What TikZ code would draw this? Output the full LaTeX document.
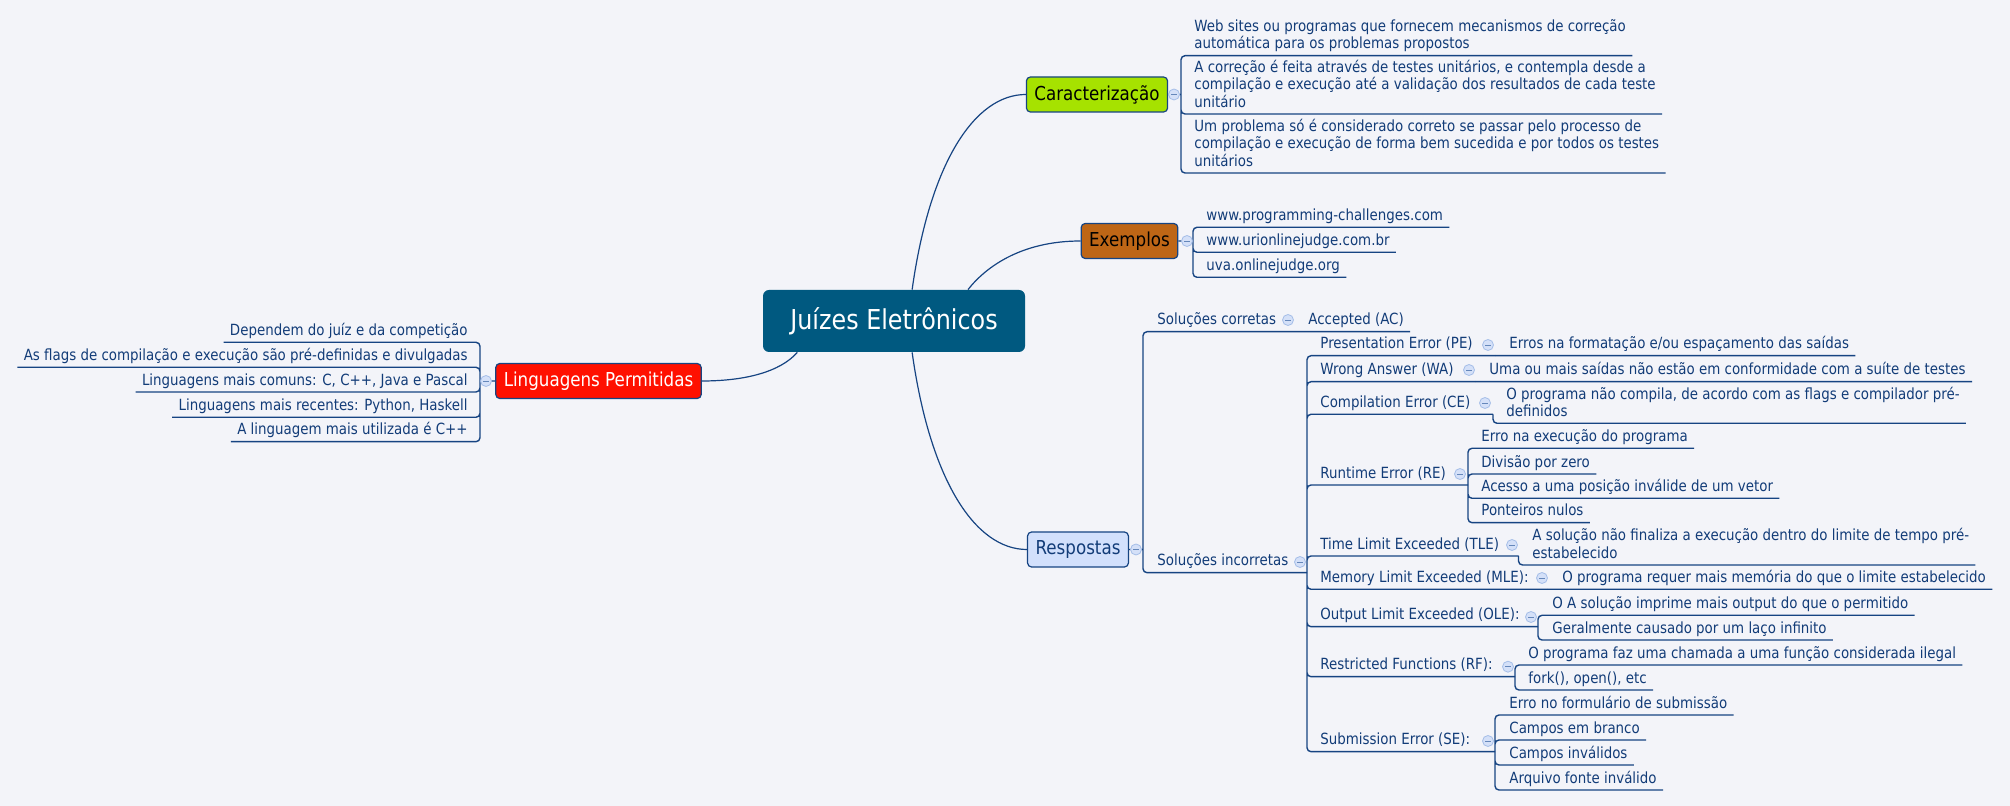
\documentclass[tikz,border=0pt]{standalone}
\usepackage{fontspec}
\setmainfont{DejaVu Sans}[FakeStretch=0.87]

\definecolor{bgcol}{RGB}{243,244,249}
\definecolor{linecol}{RGB}{22,68,130}
\definecolor{textcol}{RGB}{18,60,120}
\definecolor{rootcol}{RGB}{0,89,128}
\definecolor{caraccol}{RGB}{166,226,0}
\definecolor{examplecol}{RGB}{190,102,22}
\definecolor{answercol}{RGB}{210,224,252}
\definecolor{langcol}{RGB}{255,16,0}
\definecolor{knobcol}{RGB}{212,224,248}
\definecolor{knobline}{RGB}{165,190,232}

\begin{document}
\begin{tikzpicture}[x=0.5pt,y=-0.5pt,
% Topic style
		root/.style={rectangle
							    , rounded corners=3pt
							    , fill=rootcol
							    , text=white
							    , minimum width=131pt
							    , minimum height=31pt
							    , font=\fontsize{13.7}{16}\selectfont},
		topic/.style={rectangle
							    , rounded corners=2pt
							    , draw=linecol, line width=0.6pt
							    , inner xsep=4pt
							    , minimum height=17.5pt
							    , font=\fontsize{9.6}{11}\selectfont},
% Leaf style
		leaf/.style={anchor=south west
							    , inner xsep=3pt
							    , inner ysep=0.7pt
							    , text=textcol
							    , align=left
							    , font=\fontsize{7.7}{8.6}\selectfont
							    , execute at end node=\strut},
		leftleaf/.style={leaf
							    , anchor=south east
							    , align=right},
		knob/.style={circle
							    , fill=knobcol
							    , draw=knobline, line width=0.4pt
							    , inner sep=0pt
							    , minimum size=5.5pt
							    , path picture={\draw[linecol!45!knobline, line width=0.4pt]
							        ([xshift=-1.3pt]path picture bounding box.center)
							        -- ([xshift=1.3pt]path picture bounding box.center);}},
% Connector style
		branch/.style={draw=linecol, line width=0.7pt, rounded corners=2pt},
		curve/.style={draw=linecol, line width=0.6pt}
	]
	\fill[bgcol] (0,0) rectangle (2010,806);

%% Main topics
	\node [root] (jz) at (894,321) {Juízes Eletrônicos};
	\node [topic, fill=caraccol] (carac) at (1097,94.5) {Caracterização};
	\node [topic, fill=examplecol] (exemp) at (1129.5,241) {Exemplos};
	\node [topic, fill=answercol, text=textcol] (resp) at (1078,549.5) {Respostas};
	\node [topic, fill=langcol, text=white] (lang) at (598.5,381) {Linguagens Permitidas};

	\draw[curve] (jz.60) .. controls (930,162) and (975,94.5) .. (carac.west);
	\draw[curve] (jz.23) .. controls (985,268) and (1020,241) .. (exemp.west);
	\draw[curve] (jz.300) .. controls (930,480) and (975,549.5) .. (resp.west);
	\draw[curve] (jz.198) .. controls (780,372) and (745,381) .. (lang.east);

%% Caracterizacao
	\coordinate (carac-h) at (1181,94.5);
	\node [leaf] (ca1) at (1188,55.7) {Web sites ou programas que fornecem mecanismos de correção\\automática para os problemas propostos};
	\node [leaf] (ca2) at (1188,114) {A correção é feita através de testes unitários, e contempla desde a\\compilação e execução até a validação dos resultados de cada teste\\unitário};
	\node [leaf] (ca3) at (1188,173) {Um problema só é considerado correto se passar pelo processo de\\compilação e execução de forma bem sucedida e por todos os testes\\unitários};
	\draw[branch] (carac.east) -- (carac-h)
		(carac-h) |- (ca1.south east) (carac-h) |- (ca2.south east) (carac-h) |- (ca3.south east);

%% Exemplos
	\coordinate (exemp-h) at (1193,241);
	\node [leaf] (ex1) at (1200,227.3) {www.programming-challenges.com};
	\node [leaf] (ex2) at (1200,252.3) {www.urionlinejudge.com.br};
	\node [leaf] (ex3) at (1200,277.3) {uva.onlinejudge.org};
	\draw[branch] (exemp.east) -- (exemp-h)
		(exemp-h) |- (ex1.south east) (exemp-h) |- (ex2.south east) (exemp-h) |- (ex3.south east);

%% Linguagens Permitidas
	\coordinate (lang-h) at (480,381);
	\node [leftleaf] (lp1) at (474,342.3) {Dependem do juíz e da competição};
	\node [leftleaf] (lp2) at (474,367.3) {As flags de compilação e execução são pré-definidas e divulgadas};
	\node [leftleaf] (lp3) at (474,392) {Linguagens mais comuns: C, C++, Java e Pascal};
	\node [leftleaf] (lp4) at (474,417.3) {Linguagens mais recentes: Python, Haskell};
	\node [leftleaf] (lp5) at (474,441.7) {A linguagem mais utilizada é C++};
	\draw[branch] (lang.west) -- (lang-h)
		(lang-h) |- (lp1.south west) (lang-h) |- (lp2.south west) (lang-h) |- (lp3.south west)
		(lang-h) |- (lp4.south west) (lang-h) |- (lp5.south west);

%% Respostas
	\coordinate (resp-h) at (1143,549.5);
	\coordinate (sc-h) at (1295,331.7);
	\coordinate (si-h) at (1307,572.7);
	\node [leaf] (sc) at (1151,331.7) {Soluções corretas};
	\node [leaf] (ac) at (1302,331.7) {Accepted (AC)};
	\node [leaf] (si) at (1151,572.7) {Soluções incorretas};
	\draw[branch] (resp.east) -- (resp-h)
		(resp-h) |- (sc-h) (resp-h) |- (si-h)
		(sc-h) -- (ac.south east);

	\coordinate (pe-h) at (1495,355.7);
	\coordinate (wa-h) at (1475,381.7);
	\coordinate (ce-h) at (1493,414.3);
	\coordinate (re-h) at (1468,485);
	\coordinate (tle-h) at (1518.5,556);
	\coordinate (mle-h) at (1547,589.3);
	\coordinate (ole-h) at (1538,626.7);
	\coordinate (rf-h) at (1515,676.7);
	\coordinate (se-h) at (1495,751.7);
	\node [leaf] (pe) at (1314,355.7) {Presentation Error (PE)};
	\node [leaf] (wa) at (1314,381.7) {Wrong Answer (WA)};
	\node [leaf] (ce) at (1314,414.3) {Compilation Error (CE)};
	\node [leaf] (re) at (1314,485) {Runtime Error (RE)};
	\node [leaf] (tle) at (1314,556) {Time Limit Exceeded (TLE)};
	\node [leaf] (mle) at (1314,589.3) {Memory Limit Exceeded (MLE):};
	\node [leaf] (ole) at (1314,626.7) {Output Limit Exceeded (OLE):};
	\node [leaf] (rf) at (1314,676.7) {Restricted Functions (RF):};
	\node [leaf] (se) at (1314,751.7) {Submission Error (SE):};
	\draw[branch] (si-h) |- (pe-h) (si-h) |- (wa-h) (si-h) |- (ce-h)
		(si-h) |- (re-h) (si-h) |- (tle-h) (si-h) |- (mle-h)
		(si-h) |- (ole-h) (si-h) |- (rf-h) (si-h) |- (se-h);

	\node [leaf] (pe1) at (1503,355.7) {Erros na formatação e/ou espaçamento das saídas};
	\node [leaf] (wa1) at (1483,381.7) {Uma ou mais saídas não estão em conformidade com a suíte de testes};
	\node [leaf] (ce1) at (1500,423.3) {O programa não compila, de acordo com as flags e compilador pré-\\definidos};
	\node [leaf] (re1) at (1475,448.3) {Erro na execução do programa};
	\node [leaf] (re2) at (1475,474) {Divisão por zero};
	\node [leaf] (re3) at (1475,498.3) {Acesso a uma posição inválide de um vetor};
	\node [leaf] (re4) at (1475,522.7) {Ponteiros nulos};
	\node [leaf] (tle1) at (1526,565) {A solução não finaliza a execução dentro do limite de tempo pré-\\estabelecido};
	\node [leaf] (mle1) at (1556,589.3) {O programa requer mais memória do que o limite estabelecido};
	\node [leaf] (ole1) at (1546,615.3) {O A solução imprime mais output do que o permitido};
	\node [leaf] (ole2) at (1546,640) {Geralmente causado por um laço infinito};
	\node [leaf] (rf1) at (1522,665) {O programa faz uma chamada a uma função considerada ilegal};
	\node [leaf] (rf2) at (1522,690) {fork(), open(), etc};
	\node [leaf] (se1) at (1503,715) {Erro no formulário de submissão};
	\node [leaf] (se2) at (1503,740) {Campos em branco};
	\node [leaf] (se3) at (1503,765) {Campos inválidos};
	\node [leaf] (se4) at (1503,790) {Arquivo fonte inválido};
	\draw[branch] (pe-h) -- (pe1.south east)
		(wa-h) -- (wa1.south east)
		(ce-h) |- (ce1.south east)
		(re-h) |- (re1.south east) (re-h) |- (re2.south east) (re-h) |- (re3.south east) (re-h) |- (re4.south east)
		(tle-h) |- (tle1.south east)
		(mle-h) -- (mle1.south east)
		(ole-h) |- (ole1.south east) (ole-h) |- (ole2.south east)
		(rf-h) |- (rf1.south east) (rf-h) |- (rf2.south east)
		(se-h) |- (se1.south east) (se-h) |- (se2.south east) (se-h) |- (se3.south east) (se-h) |- (se4.south east);

%% Collapse knobs
	\node [knob] (carac-k) at (1174,94.5) {};
	\node [knob] (exemp-k) at (1187,241) {};
	\node [knob] (resp-k) at (1136,549.5) {};
	\node [knob] (lang-k) at (486,381) {};
	\node [knob] (sc-k) at (1288,320) {};
	\node [knob] (si-k) at (1300,562) {};
	\node [knob] (pe-k) at (1488,345) {};
	\node [knob] (wa-k) at (1469,370) {};
	\node [knob] (ce-k) at (1485,403) {};
	\node [knob] (re-k) at (1460,474) {};
	\node [knob] (tle-k) at (1512,545) {};
	\node [knob] (mle-k) at (1542,578) {};
	\node [knob] (ole-k) at (1531,617) {};
	\node [knob] (rf-k) at (1508,666.7) {};
	\node [knob] (se-k) at (1488,741) {};
\end{tikzpicture}
\end{document}
